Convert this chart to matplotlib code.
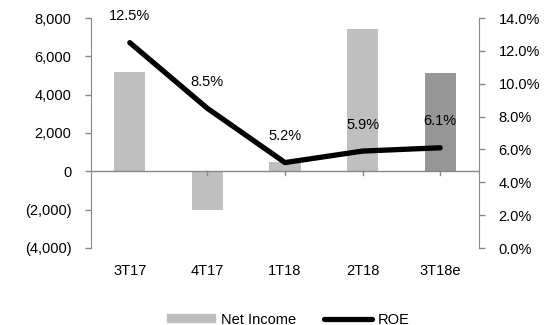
import matplotlib.pyplot as plt
from matplotlib.lines import Line2D
from matplotlib.patches import Patch
from matplotlib.ticker import FuncFormatter

plt.rcParams['font.family'] = ['Liberation Sans', 'DejaVu Sans']
plt.rcParams['font.size'] = 10.5

quarters = ['3T17', '4T17', '1T18', '2T18', '3T18e']
net_income = [5200, -2000, 500, 7450, 5150]
roe = [12.5, 8.5, 5.2, 5.9, 6.1]
bar_colors = ['#bfbfbf', '#bfbfbf', '#bfbfbf', '#bfbfbf', '#969696']

fig = plt.figure(figsize=(5.54, 3.25), dpi=100)
ax = fig.add_axes([91 / 554, 77 / 325, 388 / 554, 230 / 325])
ax2 = ax.twinx()

x = range(len(quarters))
ax.bar(x, net_income, width=0.4, color=bar_colors, zorder=2)
ax.set_ylim(-4000, 8000)
ax.set_yticks(range(-4000, 8001, 2000))
ax.yaxis.set_major_formatter(FuncFormatter(
    lambda v, p: f'({abs(v):,.0f})' if v < 0 else f'{v:,.0f}'))
ax.set_xlim(-0.5, len(quarters) - 0.5)
ax.set_xticks([])

# category separators hanging below the zero line
for b in range(1, len(quarters)):
    ax.plot([b, b], [0, -200], color='#888888', lw=1, zorder=3)
ax.axhline(0, color='#888888', lw=1, zorder=3)

for lbl, xi in zip(quarters, x):
    ax.text(xi, -4850, lbl, ha='center', va='top')

ax2.plot(x, roe, color='black', lw=3.8, solid_capstyle='round', zorder=4)
ax2.set_ylim(0, 14)
ax2.set_yticks(range(0, 15, 2))
ax2.yaxis.set_major_formatter(FuncFormatter(lambda v, p: f'{v:.1f}%'))
for xi, r in zip(x, roe):
    ax2.annotate(f'{r}%', (xi, r), xytext=(0, 14), textcoords='offset points',
                 ha='center', va='bottom')

for a in (ax, ax2):
    for s in ('top', 'bottom'):
        a.spines[s].set_visible(False)
    a.tick_params(axis='y', color='#888888', length=4, width=1, pad=10)
ax.spines['right'].set_visible(False)
ax.spines['left'].set_color('#888888')
ax2.spines['left'].set_visible(False)
ax2.spines['right'].set_color('#888888')

handles = [Patch(color='#bfbfbf', label='Net Income'),
           Line2D([], [], color='black', lw=3.8, solid_capstyle='round',
                  label='ROE')]
fig.legend(handles=handles, loc='lower center', ncol=2, frameon=False,
           bbox_to_anchor=(0.52, -0.045), handlelength=3.3, handleheight=0.5,
           columnspacing=1.9, handletextpad=0.4)

fig.savefig('out.png', dpi=100)
